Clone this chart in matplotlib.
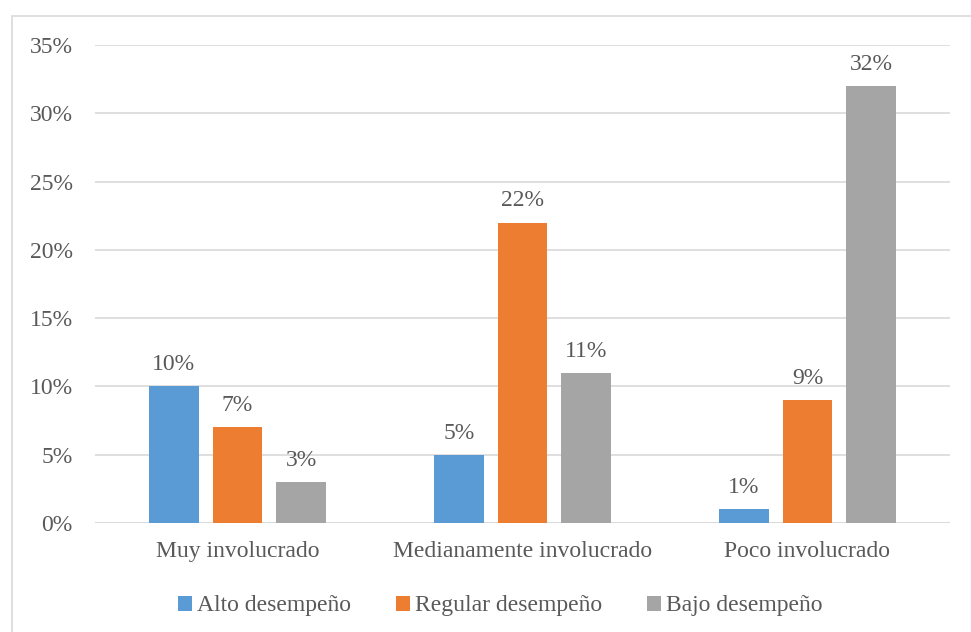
import matplotlib
matplotlib.use("Agg")
import matplotlib.pyplot as plt
from matplotlib.patches import Rectangle
from matplotlib.ticker import FuncFormatter
import numpy as np

categories = ["Muy involucrado", "Medianamente involucrado", "Poco involucrado"]
series_names = ["Alto desempeño", "Regular desempeño", "Bajo desempeño"]
alto = [10, 5, 1]
regular = [7, 22, 9]
bajo = [3, 11, 32]
colors = ["#5B9BD5", "#ED7D31", "#A5A5A5"]
text_color = "#595959"
fs = 17

plt.rcParams["font.family"] = ["Liberation Serif", "DejaVu Serif"]

fig = plt.figure(figsize=(9.71, 6.32), dpi=100)
ax = fig.add_axes([95 / 971, 109 / 632, 855 / 971, 478 / 632])

# outer chart frame
fig.patches.append(Rectangle((12 / 971, -0.05), 1.1, (632 - 16) / 632 + 0.05,
                             transform=fig.transFigure, fill=False,
                             edgecolor="#d9d9d9", linewidth=1.2))

x = np.arange(len(categories))
width = 0.175
offset = 0.223
for i, (vals, name, c) in enumerate(zip([alto, regular, bajo], series_names, colors)):
    pos = x + (i - 1) * offset
    bars = ax.bar(pos, vals, width, color=c, label=name, zorder=3)
    for b, v in zip(bars, vals):
        ax.annotate(f"{v}%", (b.get_x() + b.get_width() / 2, v),
                    xytext=(0, 8), textcoords="offset points",
                    ha="center", va="bottom", fontsize=fs, color=text_color)

ax.set_xlim(-0.5, 2.5)
ax.set_ylim(0, 35)
ax.set_yticks(np.arange(0, 36, 5))
ax.yaxis.set_major_formatter(FuncFormatter(lambda v, p: f"{v:.0f}%"))
ax.set_xticks(x)
ax.set_xticklabels(categories)
ax.tick_params(axis="both", length=0, labelsize=fs, labelcolor=text_color)
ax.tick_params(axis="y", pad=16)
ax.tick_params(axis="x", pad=13)
ax.yaxis.grid(True, color="#d9d9d9", linewidth=1.2, zorder=0)
for s in ax.spines.values():
    s.set_visible(False)
ax.axhline(0, color="#d9d9d9", linewidth=1.2, zorder=2)

fig.legend(loc="center", bbox_to_anchor=(500 / 971, 1 - 606 / 632), ncol=3,
           frameon=False, fontsize=fs, labelcolor=text_color,
           handlelength=0.6, handleheight=0.6, handletextpad=0.2,
           columnspacing=1.9)

fig.savefig("out.png", dpi=100, facecolor="white")
